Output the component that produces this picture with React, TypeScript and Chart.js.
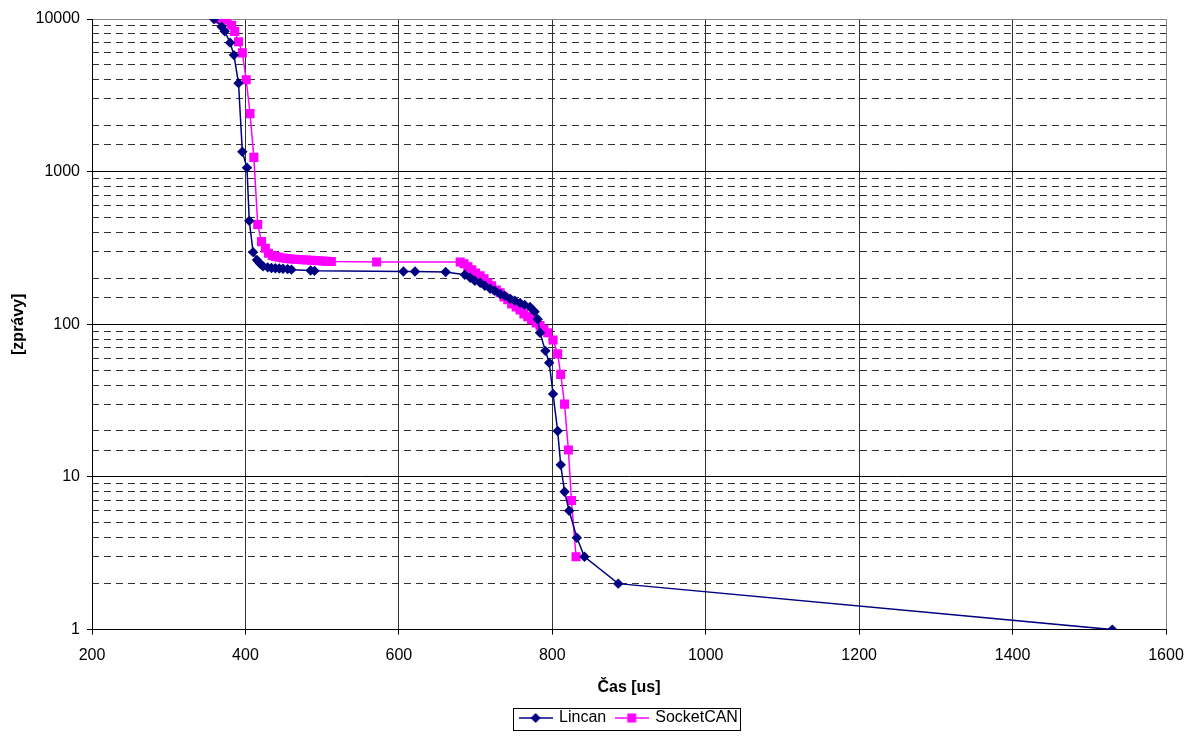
import React, { useEffect, useRef } from 'react';
import { Chart, registerables } from 'chart.js';

Chart.register(...registerables);

const lincanX = [359, 369, 373, 380, 385, 391, 396, 402, 405, 410, 415, 419, 423, 429, 434, 439, 444, 449, 455, 460, 485, 490, 606, 621, 661, 686, 693, 699, 706, 712, 719, 725, 732, 738, 745, 751, 758, 764, 771, 777, 781, 784, 791, 796, 801, 807, 811, 816, 822, 832, 842, 886, 1530];
const lincanY = [10000, 8900, 8300, 7000, 5800, 3800, 1350, 1060, 476, 297, 264, 250, 240, 236, 234, 233, 232, 231, 230, 228, 225, 224, 222, 222, 220, 211, 202, 193, 187, 179, 171, 166, 158, 154, 147, 143, 138, 134, 130, 121, 108, 88, 67, 56, 35, 20, 12, 8, 6, 4, 3, 2, 1];

const socketX = [366, 371, 376, 382, 386, 391, 396, 401, 406, 411, 416, 421, 426, 430, 435, 439, 444, 449, 454, 459, 465, 470, 475, 480, 486, 491, 496, 501, 506, 512, 571, 680, 685, 690, 695, 700, 706, 711, 716, 721, 727, 732, 737, 742, 747, 753, 758, 763, 768, 773, 779, 784, 789, 794, 801, 807, 811, 816, 821, 825, 831];
const socketY = [10000, 9950, 9800, 9100, 8300, 7100, 6000, 4000, 2400, 1240, 450, 348, 315, 292, 282, 278, 275, 272, 270, 268, 267, 266, 265, 264, 263, 262, 261, 260, 259, 258, 256, 256, 249, 238, 228, 217, 208, 199, 187, 179, 168, 161, 151, 145, 136, 130, 124, 117, 112, 107, 102, 98, 93, 88, 79, 64, 47, 30, 15, 7, 3];

const seriesNames = ['Lincan', 'SocketCAN'];
const xMin = 200;
const xMax = 1600;
const xStep = 200;
const yMin = 1;
const yMax = 10000;

const NAVY = '#000080';
const MAGENTA = '#FF00FF';
const FONT = '"Liberation Sans", Arial, sans-serif';

function isMajor(v: number) {
  const l = Math.log10(v);
  return Math.abs(l - Math.round(l)) < 1e-9;
}

function makeIcon(color: string, kind: 'diamond' | 'square') {
  const c = document.createElement('canvas');
  c.width = 34;
  c.height = 12;
  const g = c.getContext('2d')!;
  g.strokeStyle = color;
  g.lineWidth = 1.5;
  g.beginPath();
  g.moveTo(0, 6);
  g.lineTo(34, 6);
  g.stroke();
  g.fillStyle = color;
  if (kind === 'diamond') {
    g.beginPath();
    g.moveTo(12, 6);
    g.lineTo(17, 1);
    g.lineTo(22, 6);
    g.lineTo(17, 11);
    g.closePath();
    g.fill();
  } else {
    g.fillRect(12.5, 1.5, 9, 9);
  }
  return c;
}

const legendBox = {
  id: 'legendBox',
  afterDraw(chart: any) {
    const lg = chart.legend;
    if (!lg || !lg.legendHitBoxes || !lg.legendHitBoxes.length) return;
    const hb = lg.legendHitBoxes;
    const l = Math.min(...hb.map((h: any) => h.left));
    const r = Math.max(...hb.map((h: any) => h.left + h.width));
    const t = Math.min(...hb.map((h: any) => h.top));
    const b = Math.max(...hb.map((h: any) => h.top + h.height));
    const ctx = chart.ctx;
    ctx.save();
    ctx.strokeStyle = '#000';
    ctx.lineWidth = 1;
    ctx.strokeRect(Math.round(l - 7) + 0.5, Math.round(t - 2) + 0.5, Math.round(r - l + 9), Math.round(b - t + 6));
    ctx.restore();
  },
};

export default function App() {
  const ref = useRef<HTMLCanvasElement | null>(null);

  useEffect(() => {
    document.body.style.margin = '0';
    const canvas = ref.current;
    if (!canvas) return;
    const icons = [makeIcon(NAVY, 'diamond'), makeIcon(MAGENTA, 'square')];
    const chart = new Chart(canvas, {
      type: 'scatter',
      data: {
        datasets: [
          {
            label: seriesNames[0],
            data: lincanX.map((x, i) => ({ x, y: lincanY[i] })),
            showLine: true,
            borderColor: NAVY,
            backgroundColor: NAVY,
            borderWidth: 1.5,
            pointStyle: 'rectRot',
            pointRadius: 5.2,
            pointHoverRadius: 5.2,
            pointBorderWidth: 0,
            tension: 0,
            yAxisID: 'y',
          },
          {
            label: seriesNames[1],
            data: socketX.map((x, i) => ({ x, y: socketY[i] })),
            showLine: true,
            borderColor: MAGENTA,
            backgroundColor: MAGENTA,
            borderWidth: 1.5,
            pointStyle: 'rect',
            pointRadius: 6.4,
            pointHoverRadius: 6.4,
            pointBorderWidth: 0,
            tension: 0,
            yAxisID: 'y',
          },
        ],
      },
      options: {
        animation: false,
        responsive: true,
        maintainAspectRatio: false,
        layout: { padding: { top: 19, right: 22, left: 0, bottom: 2 } },
        scales: {
          x: {
            type: 'linear',
            min: xMin,
            max: xMax,
            afterFit: (s: any) => {
              s.paddingLeft = 0;
              s.paddingRight = 0;
            },
            ticks: {
              stepSize: xStep,
              color: '#000',
              padding: 11,
              font: { family: FONT, size: 16 },
              callback: (v: any) => String(v),
            },
            grid: {
              color: (c: any) => (c.tick && c.tick.value === xMax ? '#888' : '#333'),
              lineWidth: 1,
              tickLength: 5,
              tickColor: '#000',
            },
            border: { color: '#000', width: 1 },
            title: {
              display: true,
              text: 'Čas [us]',
              color: '#000',
              font: { family: FONT, size: 16, weight: 'bold' },
              padding: { top: 2, bottom: 3 },
            },
          },
          y: {
            type: 'logarithmic',
            position: 'left',
            min: yMin,
            max: yMax,
            afterFit: (s: any) => {
              s.width = 92;
            },
            ticks: {
              autoSkip: false,
              color: '#000',
              padding: 7,
              font: { family: FONT, size: 16 },
              callback: (v: any) => (isMajor(Number(v)) ? String(Number(v)) : ''),
            },
            grid: {
              color: (c: any) => {
                const v = c.tick ? c.tick.value : 0;
                if (!isMajor(v)) return 'rgba(0,0,0,0)';
                return v === yMax ? '#888' : '#000';
              },
              tickColor: (c: any) => (c.tick && isMajor(c.tick.value) ? '#000' : 'rgba(0,0,0,0)'),
              tickLength: 5,
              lineWidth: 1,
            },
            border: { color: '#000', width: 1 },
            title: {
              display: true,
              text: '[zprávy]',
              color: '#000',
              font: { family: FONT, size: 16, weight: 'bold' },
              padding: { top: 9, bottom: 0 },
            },
          },
          y2: {
            type: 'logarithmic',
            position: 'left',
            min: yMin,
            max: yMax,
            afterFit: (s: any) => {
              s.width = 0;
            },
            ticks: { display: false },
            grid: {
              drawTicks: false,
              color: (c: any) => (c.tick && !isMajor(c.tick.value) ? '#333' : 'rgba(0,0,0,0)'),
              lineWidth: 1,
            },
            border: { display: false, dash: [7, 5] },
          },
        },
        plugins: {
          legend: {
            display: true,
            position: 'bottom',
            fullSize: false,
            labels: {
              color: '#000',
              font: { family: FONT, size: 16 },
              usePointStyle: true,
              pointStyleWidth: 31,
              boxHeight: 12,
              padding: 10,
              generateLabels: (ch: any) =>
                Chart.defaults.plugins.legend.labels.generateLabels(ch).map((l: any, i: number) => ({
                  ...l,
                  pointStyle: icons[i],
                })),
            },
          },
          tooltip: { enabled: false },
        },
      },
      plugins: [legendBox],
    } as any);
    return () => chart.destroy();
  }, []);

  return (
    <div style={{ width: 1188, height: 738, position: 'relative' }}>
      <canvas ref={ref} />
    </div>
  );
}
